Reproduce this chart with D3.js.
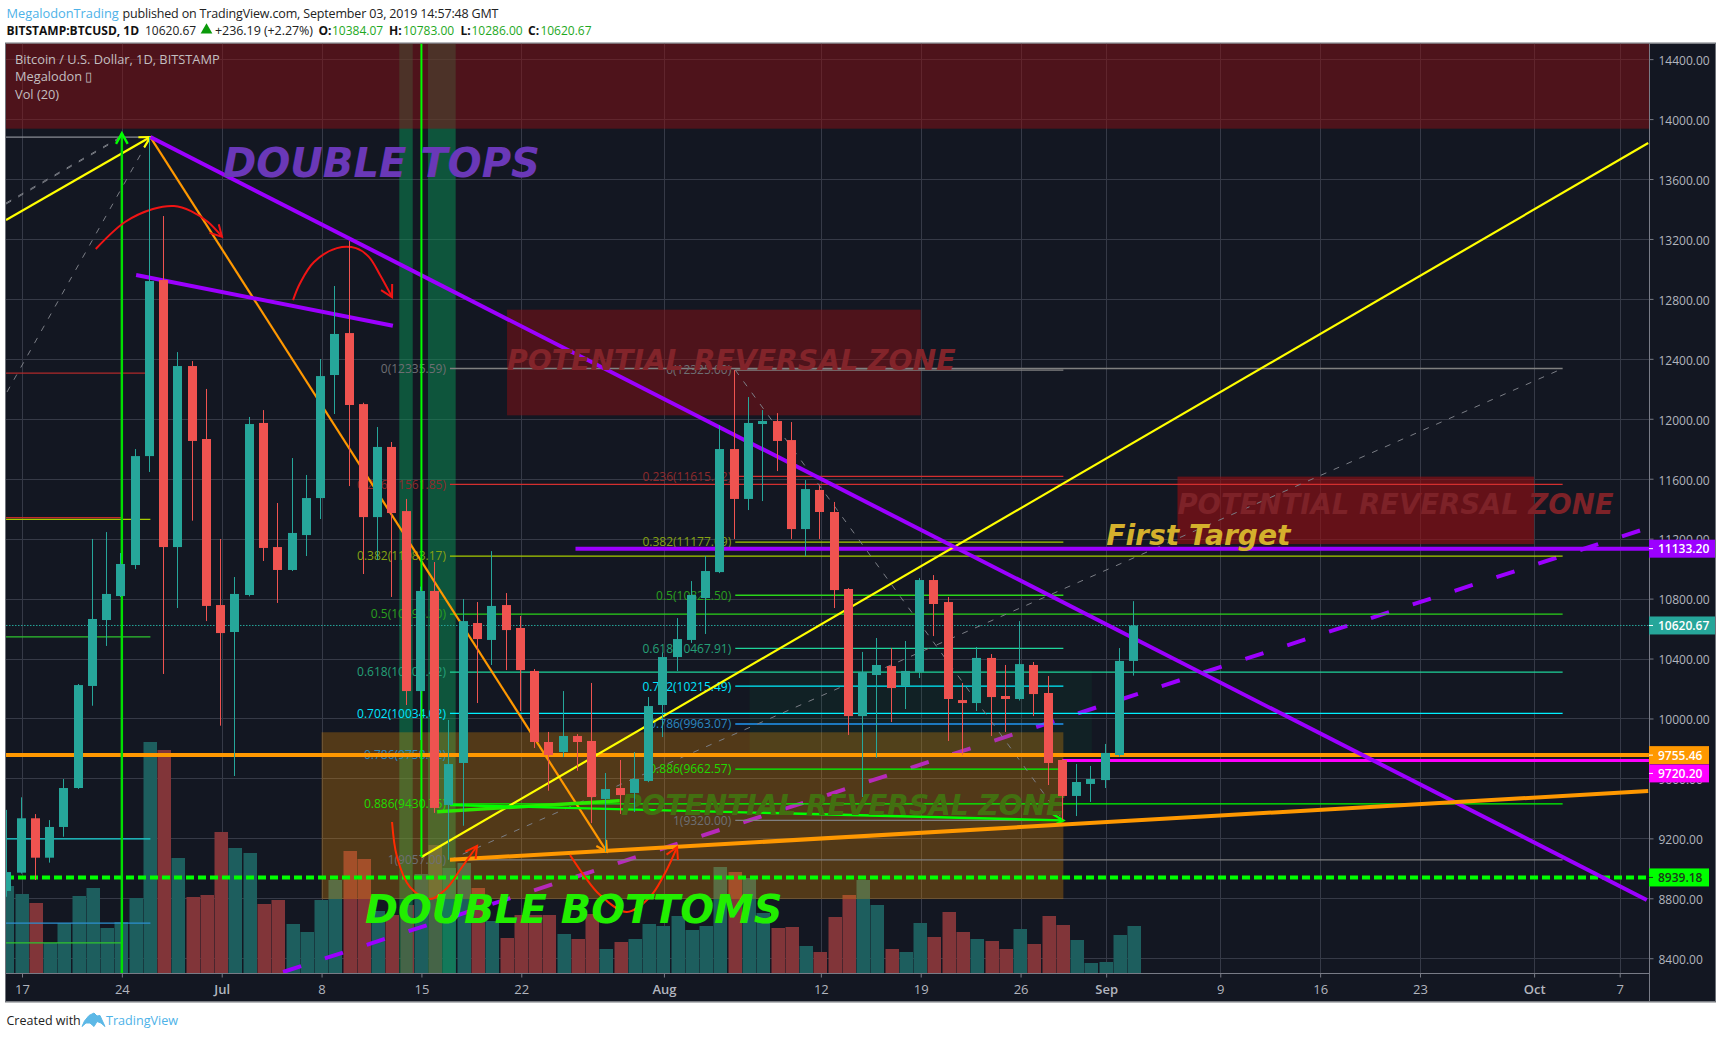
<!DOCTYPE html>
<html><head><meta charset="utf-8">
<style>html,body{margin:0;padding:0;background:#fff}svg{display:block}text{font-family:"Open Sans",sans-serif}</style>
<script src="https://cdn.jsdelivr.net/npm/d3@7"></script></head><body>
<svg id="c" width="1722" height="1038"></svg>
<script>
// ---------- data (day 0 = 17 Jun 2019) ----------
const firstDay = -1;
const opens  = [8849,8971,9334,9071,9276,9536,10217,10657,10817,11024,11751,12926,11144,12352,11865,10757,10577,10824,11972,11144,10991,11224,11471,12292,12572,12098,11344,11812,11384,10183,10851,9423,9703,10637,10524,10757,10604,10317,9843,9776,9883,9850,9463,9536,9503,9583,10090,10410,10524,10804,10977,11798,11465,11965,11985,11858,11264,11525,11378,10864,10016,10290,10350,10217,10310,10924,10777,10123,10103,10404,10150,10130,10357,10170,9723,9483,9563,9589,9756,10384];
const highs  = [9390,9474,9362,9322,9596,10230,11198,11244,11104,11798,13882,13353,12445,12385,12199,11198,10944,12012,12058,11438,11738,11625,12399,12886,13186,12107,11945,11845,11465,10880,11044,9990,10797,10777,11117,10837,10684,10330,9910,10183,9896,10237,9636,9723,9776,10143,10440,10670,10917,11084,11958,12325,12145,12058,12038,11978,11591,11551,11445,10870,10444,10537,10470,10517,10937,10957,10811,10237,10477,10430,10357,10650,10377,10283,9730,9696,9683,9830,10470,10783];
const lows   = [8810,8965,8922,9038,9211,9530,10085,10484,10810,10997,11645,10297,10737,11320,10650,9952,9616,10815,11051,10771,10984,11084,11331,12032,11551,10964,11057,10811,10090,9856,9370,9057,9284,10103,10357,10323,10050,9803,9518,9743,9651,9302,9111,9363,9376,9575,9876,10317,10504,10564,10970,11198,11391,11451,11651,11198,11084,11198,10737,9890,9476,9738,9976,10063,10270,10550,9850,9756,10050,9883,9910,10120,10016,9556,9322,9349,9443,9536,9745,10286];
const closes = [8975,9334,9071,9276,9536,10223,10664,10831,11031,11751,12919,11144,12352,11852,10751,10570,10831,11965,11138,10991,11238,11471,12285,12566,12092,11344,11812,11371,10183,10851,9403,9696,10650,10530,10751,10590,10323,9843,9756,9883,9843,9476,9529,9489,9596,10083,10410,10530,10824,10984,11798,11465,11972,11985,11852,11264,11531,11378,10857,10016,10310,10357,10203,10317,10924,10764,10130,10103,10404,10143,10130,10363,10163,9703,9483,9576,9596,9770,10384,10620.67];
const volumes= [8700,7900,7000,3000,5000,7700,8500,4500,5100,7500,23100,22300,11500,7600,7800,14100,12500,12000,6900,7300,4900,4100,7300,9300,12200,11400,6200,5800,6800,9900,12800,10500,11000,8500,5200,3500,5800,5800,5800,3900,3400,5900,2400,3100,3400,4900,4700,5700,4300,4700,10600,10100,9500,6000,4500,4600,2700,2100,5600,7800,9300,6800,2400,2100,5000,3600,6100,4100,3400,3200,2400,4400,2900,5700,4800,3300,1000,1100,3800,4700];
const priceTicks = [8400,8800,9200,9600,10000,10400,10800,11200,11600,12000,12400,12800,13200,13600,14000,14400];
const dayTicks   = [0,7,14,21,28,35,45,56,63,70,76,84,91,98,106,112];
const dayLabels  = ["17","24","Jul","8","15","22","Aug","12","19","26","Sep","9","16","23","Oct","7"];

const fibRatios = [0,0.236,0.382,0.5,0.618,0.702,0.786,0.886,1];
const fibLineColors = ["#808080","#d32f2f","#a8cc00","#2bd41a","#1fd49a","#00f0ff","#2196f3","#00ff00","#808080"];
const fibTextColors = ["#6e6f73","#8f2a2c","#86a312","#2aa01f","#25a078","#00e5ff","#2b88c0","#22d900","#6e6f73"];
const fibA = {start:30, end:108, high:12335.59, low:9057};
const fibB = {start:50, end:73, high:12325, low:9320};
const fibATexts = ["0(12335.59)","0.236(11561.85)","0.382(11083.17)","0.5(10696.30)","0.618(10309.42)","0.702(10034.02)","0.786(9758.62)","0.886(9430.75)","1(9057.00)"];
const fibBTexts = ["0(12325.00)","0.236(11615.82)","0.382(11177.09)","0.5(10822.50)","0.618(10467.91)","0.702(10215.49)","0.786(9963.07)","0.886(9662.57)","1(9320.00)"];

const oldFibLevels = [[13880,9,"#8a8d94"],[12305,9,"#b02a2a"],[11340,7,"#c62828"],[11329,9,"#a8cc00"],[10544,9,"#2fc42f"],[9196,9,"#19d6d6"],[8635,9,"#2d8fd0"],[8502,7,"#2fc42f"]];

const zones = [
  {d0:34, d1:63, p0:12728, p1:12023, fill:"rgba(137,15,20,.5)"},
  {d0:81, d1:106, p0:11614, p1:11164, fill:"rgba(150,15,18,.62)"}
];
const topZone = {p0:14600, p1:13936};
const bands = [[26.45,27.39],[28.46,30.4]];
const tanZone = {d0:21, d1:73, p0:9908, p1:8795};
const faintZone = {d0:51, d1:75, p0:10323, p1:9756};

// lines: [d0,p0,d1,p1,colour,width,arrow]
const lines = [
  [9,13880,41,9111,"#ff9800",2.2,true],
  [-1.12,13326,9,13880,"#ffff00",2.2,true],
  [28,9076,114,13840,"#ffff00",2.2,false],
  [9,13880,113.9,8789,"#9c00ff",4,false],
  [8,12959,26,12621,"#9c00ff",4,false],
  [29.1,9378,41.9,9451,"#2be800",3.6,false],
  [30,9423,73,9320,"#00ff00",2.4,true],
  [30,9057,114,9516,"#ff9800",4,false]
];
const dashedGrey = [[-1.12,13433,7,13880],[-1.12,13440,7,13886],[-1.05,12179,9,13880],[30,9057,108,12335.59],[50,12325,73,9320]];
const purpleDash = [18.3,8308,113.54,11258];
const hLines = [
  {p:9755.46, d0:-1.12, d1:114.05, c:"#ff9800", w:4},
  {p:9720.20, d0:72.9, d1:114.05, c:"#ff00ff", w:3},
  {p:11133.20, d0:38.8, d1:114.05, c:"#9c00ff", w:4}
];
const greenDashPrice = 8939.18, lastPrice = 10620.67;
const vLines = [
  {d:7, p0:13905, c:"#00e000", w:2.4, arrow:true},
  {d:28, p0:14600, p1:9076, c:"#00ff00", w:2, arrow:false}
];
const curves = [
  {c:"#f01414", w:2, pts:[[5.17,13133],[7.22,13313],[9.18,13400],[10.66,13420],[11.85,13386],[13.04,13313],[14.02,13215]]},
  {c:"#f01414", w:2, pts:[[19,12792],[19.5,12906],[20.47,13046],[22.08,13139],[23.41,13139],[24.33,13079],[25.1,12959],[25.94,12812]]},
  {c:"#ff2a00", w:2, pts:[[25.94,9309],[26.29,9076],[27.2,8875],[28.6,8795],[29.79,8869],[30.7,8989],[31.9,9149]]},
  {c:"#ff2a00", w:2, pts:[[38.42,9089],[39.47,8942],[40.52,8822],[42.41,8709],[44.02,8809],[44.93,8942],[45.92,9142]]}
];
const bigTexts = [
  {t:"DOUBLE TOPS", d:14.09, p:13707, size:40.1, fill:"#6a38b8"},
  {t:"POTENTIAL REVERSAL ZONE", d:34, p:12392, size:28.3, fill:"#82242a"},
  {t:"POTENTIAL REVERSAL ZONE", d:81, p:11431, size:27.5, fill:"#7d2228"},
  {t:"POTENTIAL REVERSAL ZONE", d:42, p:9423, size:28, fill:"#436f10"},
  {t:"First Target", d:76, p:11224, size:28.2, fill:"#d4b02c"},
  {t:"DOUBLE BOTTOMS", d:24.04, p:8729, size:39.8, fill:"#22ee00"}
];
const priceTags = [
  {p:11133.20, t:"11133.20", bg:"#9c00ff", fg:"#fff", w:66, off:0},
  {p:10620.67, t:"10620.67", bg:"#26a69a", fg:"#fff", w:66, off:0},
  {p:9755.46, t:"9755.46", bg:"#ff9800", fg:"#fff", w:60, off:0},
  {p:9720.20, t:"9720.20", bg:"#ff00ff", fg:"#fff", w:60, off:13},
  {p:8939.18, t:"8939.18", bg:"#00ff00", fg:"#1b3a1b", w:60, off:0}
];

// ---------- layout ----------
const L=6, R=1649, T=43.5, B=973, AB=1001.5, RE=1715;
const x = d3.scaleLinear().domain([0,112]).range([22,1619.7]);
const y = d3.scaleLinear().domain([8800,14400]).range([898.3,59.14]);
const yv = d3.scaleLinear().domain([0,30000]).range([B,B-300]);
const svg = d3.select("#c");
const FONT='"Open Sans",sans-serif';
svg.append("rect").attr("x",L).attr("y",T).attr("width",RE-L).attr("height",AB-T).attr("fill","#131722");
svg.append("defs").append("clipPath").attr("id","plot").append("rect").attr("x",L).attr("y",T).attr("width",R-L).attr("height",B-T);

const plot = svg.append("g").attr("clip-path","url(#plot)");
// grid
plot.selectAll(".gy").data(priceTicks).join("line").attr("x1",L).attr("x2",R).attr("y1",d=>Math.round(y(d))+.5).attr("y2",d=>Math.round(y(d))+.5).attr("stroke","#363a47");
plot.selectAll(".gx").data(dayTicks).join("line").attr("y1",T).attr("y2",B).attr("x1",d=>Math.round(x(d))+.5).attr("x2",d=>Math.round(x(d))+.5).attr("stroke","#363a47");

// candles records
const candles = opens.map((o,i)=>({d:firstDay+i,o,h:highs[i],l:lows[i],c:closes[i],v:volumes[i],up:closes[i]>=o}));
const cx = d=>Math.floor(x(d))-.5;
// volume
plot.selectAll(".vol").data(candles).join("rect")
 .attr("x",d=>cx(d.d)-6.5+.5).attr("width",13.5).attr("y",d=>yv(d.v)).attr("height",d=>B-yv(d.v))
 .attr("fill",d=>d.up?"#1d5e5e":"#813539");

// bands, zones
plot.selectAll(".band").data(bands).join("rect").attr("x",d=>x(d[0])).attr("width",d=>x(d[1])-x(d[0])).attr("y",T).attr("height",B-T).attr("fill","rgba(9,147,86,.5)");
plot.append("rect").attr("x",L).attr("width",R-L).attr("y",y(topZone.p0)).attr("height",y(topZone.p1)-y(topZone.p0)).attr("fill","rgba(137,15,20,.5)");
plot.selectAll(".zone").data(zones).join("rect").attr("x",d=>x(d.d0)).attr("width",d=>x(d.d1)-x(d.d0)).attr("y",d=>y(d.p0)).attr("height",d=>y(d.p1)-y(d.p0)).attr("fill",d=>d.fill);

// dashed purple beneath the tan zone
plot.append("line").attr("x1",x(purpleDash[0])).attr("y1",y(purpleDash[1])).attr("x2",x(purpleDash[2])).attr("y2",y(purpleDash[3]))
 .attr("stroke","#9c00ff").attr("stroke-width",4).attr("stroke-dasharray","19 25");
plot.append("rect").attr("x",x(faintZone.d0)).attr("width",x(faintZone.d1)-x(faintZone.d0)).attr("y",y(faintZone.p0)).attr("height",y(faintZone.p1)-y(faintZone.p0)).attr("fill","rgba(0,150,80,.08)");
plot.append("rect").attr("x",x(tanZone.d0)).attr("width",x(tanZone.d1)-x(tanZone.d0)).attr("y",y(tanZone.p0)).attr("height",y(tanZone.p1)-y(tanZone.p0)).attr("fill","rgba(255,152,0,.27)");

// old fib stubs
plot.selectAll(".ofib").data(oldFibLevels).join("line").attr("x1",x(-1.12)).attr("x2",d=>x(d[1])).attr("y1",d=>y(d[0])).attr("y2",d=>y(d[0])).attr("stroke",d=>d[2]).attr("stroke-width",1.2);

// fibs
function drawFib(f,texts){
  const lv = fibRatios.map((r,i)=>({p:f.high-(f.high-f.low)*r,i}));
  plot.selectAll(null).data(lv).join("line").attr("x1",x(f.start)).attr("x2",x(f.end)).attr("y1",d=>y(d.p)).attr("y2",d=>y(d.p)).attr("stroke",d=>fibLineColors[d.i]).attr("stroke-width",1.3);
  plot.selectAll(null).data(lv).join("text").attr("x",x(f.start)-4).attr("y",d=>y(d.p)).attr("dy","0.36em").attr("text-anchor","end").attr("font-size",12).attr("fill",d=>fibTextColors[d.i]).text(d=>texts[d.i]);
}
drawFib(fibA,fibATexts); drawFib(fibB,fibBTexts);

// dashed grey
plot.selectAll(".dg").data(dashedGrey).join("line").attr("x1",d=>x(d[0])).attr("y1",d=>y(d[1])).attr("x2",d=>x(d[2])).attr("y2",d=>y(d[3])).attr("stroke","#7b7e86").attr("stroke-width",1).attr("stroke-dasharray","6 8");

function arrow(px,py,ang,c,w,s=12){
  const a=Math.PI/6.2;
  const p=[[px-s*Math.cos(ang-a),py-s*Math.sin(ang-a)],[px,py],[px-s*Math.cos(ang+a),py-s*Math.sin(ang+a)]];
  plot.append("path").attr("d",d3.line()(p)).attr("fill","none").attr("stroke",c).attr("stroke-width",w);
}
// horizontal levels
plot.append("line").attr("x1",L).attr("x2",R).attr("y1",y(greenDashPrice)).attr("y2",y(greenDashPrice)).attr("stroke","#00ff00").attr("stroke-width",4).attr("stroke-dasharray","8 4");
plot.append("line").attr("x1",L).attr("x2",R).attr("y1",y(lastPrice)).attr("y2",y(lastPrice)).attr("stroke","#26a69a").attr("stroke-dasharray","1.5 1.5");
hLines.forEach(h=>{
  plot.append("line").attr("x1",x(h.d0)).attr("x2",x(h.d1)).attr("y1",y(h.p)).attr("y2",y(h.p)).attr("stroke",h.c).attr("stroke-width",h.w);
});
// diagonal lines
lines.forEach(l=>{
  const a=[x(l[0]),y(l[1])], b=[x(l[2]),y(l[3])];
  plot.append("line").attr("x1",a[0]).attr("y1",a[1]).attr("x2",b[0]).attr("y2",b[1]).attr("stroke",l[4]).attr("stroke-width",l[5]);
  if(l[6]) arrow(b[0],b[1],Math.atan2(b[1]-a[1],b[0]-a[0]),l[4],l[5]);
});
vLines.forEach(v=>{
  const y1=v.p1!==undefined?y(v.p1):B;
  plot.append("line").attr("x1",x(v.d)).attr("x2",x(v.d)).attr("y1",y(v.p0)).attr("y2",y1).attr("stroke",v.c).attr("stroke-width",v.w);
  if(v.arrow) arrow(x(v.d),y(v.p0),-Math.PI/2,"#00ff00",v.w);
});
// curves
curves.forEach(k=>{
  const pts=k.pts.map(p=>[x(p[0]),y(p[1])]);
  plot.append("path").attr("d",d3.line().curve(d3.curveCatmullRom)(pts)).attr("fill","none").attr("stroke",k.c).attr("stroke-width",k.w);
  const n=pts.length-1;
  arrow(pts[n][0],pts[n][1],Math.atan2(pts[n][1]-pts[n-1][1],pts[n][0]-pts[n-1][0]),k.c,k.w,13);
});
// big texts
plot.selectAll(".bt").data(bigTexts).join("text").attr("x",d=>x(d.d)).attr("y",d=>y(d.p)).attr("dy","0.36em")
 .attr("font-size",d=>d.size).attr("fill",d=>d.fill).style("font-family","'DejaVu Sans'").attr("font-weight","bold").attr("font-style","italic").text(d=>d.t);

// candles
const cg = plot.selectAll(".cd").data(candles).join("g");
cg.append("line").attr("x1",d=>cx(d.d)).attr("x2",d=>cx(d.d)).attr("y1",d=>y(d.h)).attr("y2",d=>y(d.l)).attr("stroke",d=>d.up?"#26a69a":"#ef5350");
cg.append("rect").attr("x",d=>cx(d.d)-4.5).attr("width",9).attr("y",d=>y(Math.max(d.o,d.c))).attr("height",d=>Math.max(1,Math.abs(y(d.o)-y(d.c)))).attr("fill",d=>d.up?"#26a69a":"#ef5350");

// frame + axes
svg.append("rect").attr("x",L-.5).attr("y",T-.5).attr("width",RE-L+1).attr("height",AB-T+1).attr("fill","none").attr("stroke","#6f7279");
const axR = svg.append("g").attr("transform",`translate(${R+.5},0)`).call(d3.axisRight(y).tickValues(priceTicks).tickSize(4).tickPadding(5).tickFormat(d=>d3.format(".2f")(d)));
const axB = svg.append("g").attr("transform",`translate(0,${B+.5})`).call(d3.axisBottom(x).tickValues(dayTicks).tickSize(4).tickPadding(7).tickFormat((d,i)=>dayLabels[i]));
[axR,axB].forEach(a=>{a.select(".domain").attr("stroke","#787b86").attr("d",a===axR?`M0,${T}V${AB}`:`M${L},0H${R}`);
 a.selectAll("line").attr("stroke","#787b86");
 a.selectAll("text").attr("fill","#b2b5be").attr("font-size",12).style("font-family",FONT);});
axR.selectAll("text").attr("dy","0.44em");
axB.selectAll("text").attr("font-size",13).attr("font-weight",(d,i)=>/[A-Z]/.test(dayLabels[i])?600:400);

// price tags
const tags = svg.selectAll(".tag").data(priceTags).join("g").attr("transform",d=>`translate(${R},${y(d.p)+d.off})`);
tags.append("rect").attr("y",-9).attr("height",18).attr("width",d=>d.w).attr("fill",d=>d.bg);
tags.append("line").attr("x1",0).attr("x2",4).attr("stroke",d=>d.fg);
tags.append("text").attr("x",9).attr("dy","0.38em").attr("font-size",12).attr("font-weight",600).attr("fill",d=>d.fg).text(d=>d.t);

// chart legend
const legend=["Bitcoin / U.S. Dollar, 1D, BITSTAMP","Megalodon ▯","Vol (20)"];
svg.selectAll(".lg").data(legend).join("text").attr("x",15).attr("y",(d,i)=>64+i*17.3).attr("font-size",12.8).attr("fill","#c3bfc0").text(d=>d);

// page header
const hdr=[
 {t:"MegalodonTrading",x:6.5,y:18,c:"#4db2e8",s:12.8},
 {t:"published on TradingView.com, September 03, 2019 14:57:48 GMT",x:122.5,y:18,c:"#222",s:12.5,len:376},
 {t:"BITSTAMP:BTCUSD, 1D",x:6.5,y:34.5,c:"#111",b:1,s:12},
 {t:"10620.67",x:145,y:34.5,c:"#222",s:12},
 {t:"+236.19 (+2.27%)",x:215,y:34.5,c:"#222",s:12.5,len:98},
 {t:"O:",x:318.4,y:34.5,c:"#111",b:1,s:12},{t:"10384.07",x:332,y:34.5,c:"#1ea81e",s:12},
 {t:"H:",x:389,y:34.5,c:"#111",b:1,s:12},{t:"10783.00",x:403,y:34.5,c:"#1ea81e",s:12},
 {t:"L:",x:460.4,y:34.5,c:"#111",b:1,s:12},{t:"10286.00",x:471.5,y:34.5,c:"#1ea81e",s:12},
 {t:"C:",x:528,y:34.5,c:"#111",b:1,s:12},{t:"10620.67",x:540.4,y:34.5,c:"#1ea81e",s:12}
];
svg.selectAll(".hd").data(hdr).join("text").attr("x",d=>d.x).attr("y",d=>d.y).attr("font-size",d=>d.s).attr("fill",d=>d.c).attr("font-weight",d=>d.b?700:400).attr("textLength",d=>d.len||null).text(d=>d.t);
svg.append("path").attr("d",d3.symbol(d3.symbolTriangle,60)()).attr("transform","translate(206.5,30)").attr("fill","#0a9a0a");

// footer
svg.append("text").attr("x",6.5).attr("y",1024.5).attr("font-size",12.5).attr("fill","#222").text("Created with");
const logoOutline=[[82,1026.5],[84.5,1021],[89,1015.5],[94,1013],[97,1016],[100,1015.5],[102,1020],[105,1026.5],[101,1023],[97,1021.5],[94,1026.5],[90,1023],[86,1023]];
svg.append("path").attr("d",d3.line().curve(d3.curveLinearClosed)(logoOutline)).attr("fill","#5cb8e6").attr("stroke","#5cb8e6");
svg.append("text").attr("x",106).attr("y",1024.5).attr("font-size",12.6).attr("fill","#4db2e8").text("TradingView");
</script></body></html>
